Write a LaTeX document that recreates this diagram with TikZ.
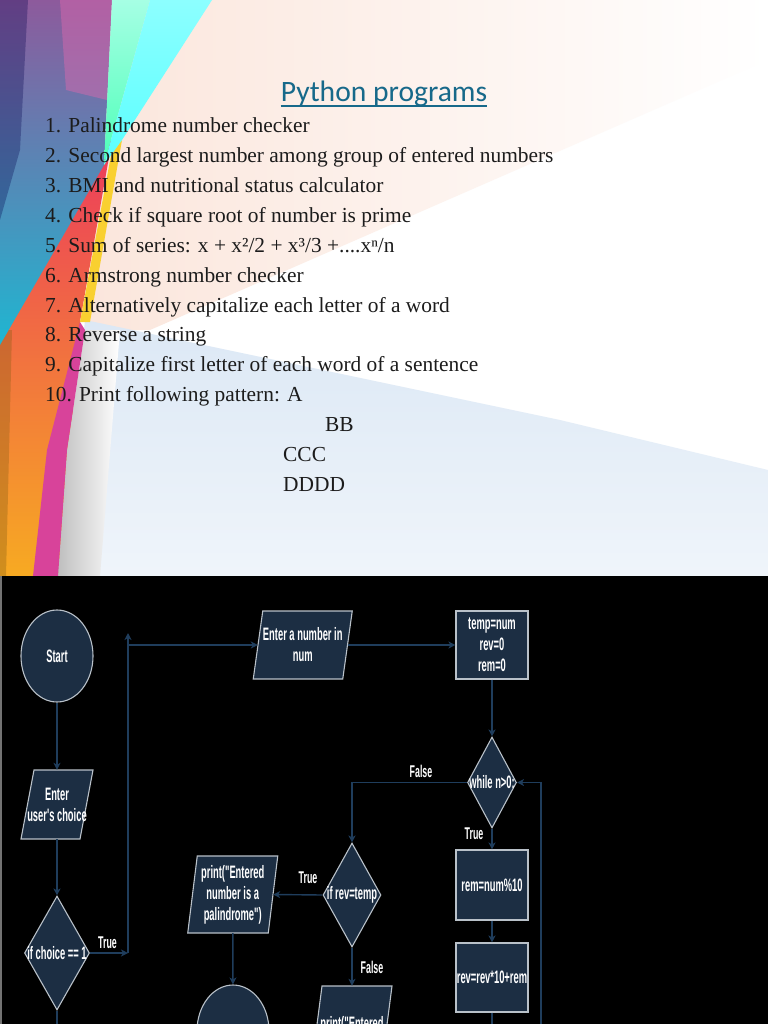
\documentclass[tikz,border=0pt]{standalone}
\usepackage{fontspec}
\setmainfont{Liberation Serif}
\newfontfamily\titlefont{Carlito}
\newfontfamily\chartfont[FakeStretch=0.52]{Liberation Sans}
\usetikzlibrary{arrows.meta,positioning,shapes.geometric}
\definecolor{pgtitle}{HTML}{17698A}
\definecolor{pgtext}{HTML}{1C1C1C}
\definecolor{pgpeach}{HTML}{FBE6DC}
\definecolor{pgblue}{HTML}{DCE8F5}
\definecolor{stpurple}{HTML}{8D5A9C}
\definecolor{stblue}{HTML}{4D7FB3}
\definecolor{stcyan}{HTML}{1FB6D1}
\definecolor{stred}{HTML}{EC3B5C}
\definecolor{storange}{HTML}{F36B3A}
\definecolor{stamber}{HTML}{F7AA22}
\definecolor{styellow}{HTML}{F9D030}
\definecolor{stmagenta}{HTML}{D8439A}
\definecolor{fcnode}{HTML}{1C2E43}
\definecolor{fcedge}{HTML}{B9C1C9}
\definecolor{fcline}{HTML}{1F3D5C}
\tikzset{
  listline/.style={anchor=base west, text=pgtext, inner sep=0pt,
    font=\fontsize{21.4}{26}\selectfont},
  fcshape/.style={draw=fcedge, fill=fcnode, line width=1.1pt},
  fctext/.style={text=white, align=center, inner sep=0pt,
    font=\chartfont\bfseries\fontsize{18}{21}\selectfont},
  terminal/.style={fcshape, fctext, ellipse, minimum width=72pt, minimum height=92pt},
  procbox/.style={fcshape, fctext, rectangle, minimum width=72pt},
  decision/.style={fcshape, diamond, inner sep=0pt},
  iotext/.style={fctext},
  lbl/.style={text=white, inner sep=0pt, font=\chartfont\bfseries\fontsize{17}{20}\selectfont},
  arr/.style={-{Stealth[length=7pt,width=7pt,inset=2pt]}, line width=1.4pt, fcline},
  link/.style={line width=1.4pt, fcline},
}
\newcommand{\seriesdots}{....}
% parallelogram: centre x, centre y, half width, half height, half slant
\newcommand{\ioshape}[5]{\filldraw[fcshape] ({#1-#3+#5},{#2-#4}) -- ({#1+#3+#5},{#2-#4})
  -- ({#1+#3-#5},{#2+#4}) -- ({#1-#3-#5},{#2+#4}) -- cycle;}

\begin{document}
\begin{tikzpicture}[x=1pt, y=-1pt]
  \useasboundingbox (0,0) rectangle (768,1024);
  \clip (0,0) rectangle (768,1024);
  % slide background
  \fill[white] (0,0) rectangle (768,576);
  \shade[left color=pgpeach, right color=white] (90,0) -- (768,0) -- (768,60) -- (150,330) -- (90,330) -- cycle;
  \shade[top color=pgblue, bottom color=pgblue!45] (85,320) -- (560,420) -- (768,470) -- (768,576) -- (60,576) -- cycle;
  \shade[top color=stred, middle color=storange, bottom color=stamber] (0,140) -- (112,140) -- (80,322) -- (60,576) -- (0,576) -- cycle;
  \fill[black!45!stamber, opacity=0.35] (0,330) -- (12,330) -- (6,576) -- (0,576) -- cycle;
  \fill[styellow] (112,150) -- (122,140) -- (90,322) -- (80,322) -- cycle;
  \shade[left color=black!25!white, right color=white] (85,330) -- (120,330) -- (100,576) -- (58,576) -- (67,450) -- cycle;
  \fill[stmagenta] (80,322) -- (85,330) -- (67,450) -- (58,576) -- (33,576) -- (47,450) -- cycle;
  \shade[top color=stpurple, middle color=stblue, bottom color=stcyan] (0,0) -- (112,0) -- (104,165) -- (0,345) -- cycle;
  \fill[stmagenta!80!white, opacity=0.45] (60,0) -- (112,0) -- (107,100) -- (66,90) -- cycle;
  \fill[black!70!blue, opacity=0.3] (0,0) -- (28,0) -- (20,150) -- (0,220) -- cycle;
  \shade[top color=green!30!cyan!35!white, bottom color=cyan!60!green!70!white] (112,0) -- (150,0) -- (104,165) -- cycle;
  \shade[top color=cyan!45!white, bottom color=cyan!65!white] (150,0) -- (212,0) -- (122,140) -- (104,165) -- cycle;

  % title and list
  \node[font=\titlefont\fontsize{29.6}{34}\selectfont, text=pgtitle, anchor=base, inner sep=0pt] (title) at (384,102) {Python programs};
  \draw[pgtitle, line width=1.6pt] ([yshift=-4pt]title.base west) -- ([yshift=-4pt]title.base east);
  \foreach \txt [count=\i] in {1. Palindrome number checker,
      2. Second largest number among group of entered numbers,
      3. BMI and nutritional status calculator,
      4. Check if square root of number is prime,
      5. Sum of series: x + x²/2 + x³/3 +\seriesdots xⁿ/n,
      6. Armstrong number checker,
      7. Alternatively capitalize each letter of a word,
      8. Reverse a string,
      9. Capitalize first letter of each word of a sentence,
      10. Print following pattern: A} {
    \node[listline] (p\i) at (45,{133+29.85*(\i-1)}) {\txt};
  }
  \node[listline] (pbb) at (325,431.5) {BB};
  \node[listline] (pccc) at (283,461) {CCC};
  \node[listline] (pdddd) at (283,491) {DDDD};

  % flowchart panel
  \fill[black] (0,576) rectangle (768,1024);
  \draw[black!55, line width=1.2pt] (1,576) -- (1,1024);

  \node[terminal] (start) at (57,656) {Start};
  \ioshape{57}{804.5}{29.5}{34.5}{6.5}
  \node[iotext, minimum width=59pt, minimum height=69pt] (user) at (57,804.5) {Enter\\user's choice};
  \node[decision, minimum width=65pt, minimum height=114pt, label={[fctext]center:if choice == 1}] (choice) at (57,953) {};
  \ioshape{302.75}{645}{44.75}{34}{4.75}
  \node[iotext, minimum width=89.5pt, minimum height=68pt] (num) at (302.75,645) {Enter a number in\\num};
  \node[procbox, minimum height=68pt] (init) at (492,645) {temp=num\\rev=0\\rem=0};
  \node[decision, minimum width=49pt, minimum height=91pt, label={[fctext]center:while n>0:}] (loop) at (492,782.5) {};
  \node[procbox, minimum height=70pt] (rem) at (492,885) {rem=num\%10};
  \node[procbox, minimum height=69pt] (rev) at (492,977.5) {rev=rev*10+rem};
  \node[decision, minimum width=58pt, minimum height=104pt, label={[fctext]center:if rev=temp}] (check) at (352,895) {};
  \ioshape{232.75}{894.5}{40.25}{38.5}{4.75}
  \node[iotext, minimum width=80.5pt, minimum height=77pt] (pal) at (232.75,894.5) {print("Entered\\number is a\\palindrome")};
  \node[terminal] (stop) at (233,1031) {};
  \ioshape{352}{1024.5}{35}{38.5}{5}
  \node[lbl, font=\chartfont\bfseries\fontsize{18}{21}\selectfont, text height=43pt, text depth=34pt, minimum width=70pt] (notpal) at (352,1024.5) {print("Entered};

  \node[lbl] (t1) at (107.5,943) {True};
  \node[lbl] (f1) at (421,771) {False};
  \node[lbl] (t2) at (474,834) {True};
  \node[lbl] (t3) at (308,878) {True};
  \node[lbl] (f2) at (372,967) {False};

  \coordinate (jt) at (128,953);
  \coordinate (jtop) at (128,633);
  \coordinate (back) at (541,1040);
  \draw[arr] (start) -- (user);
  \draw[arr] (user) -- (choice);
  \draw[link] (choice.south) -- ++(0,20);
  \draw[arr] (choice.east) -- (jt);
  \draw[arr] (jt) -- (jtop);
  \draw[arr] (jt |- num.west) -- (num.west);
  \draw[arr] (num) -- (init);
  \draw[arr] (init) -- (loop);
  \draw[arr] (loop.west) -| (check.north);
  \draw[arr] (loop) -- (rem);
  \draw[arr] (rem) -- (rev);
  \draw[link] (rev.south) -- ++(0,20);
  \draw[arr] (back) |- (loop.east);
  \draw[arr] (check.west) -- (pal.east);
  \draw[arr] (check.south) -- (notpal.north);
  \draw[arr] (pal) -- (stop);
\end{tikzpicture}
\end{document}
